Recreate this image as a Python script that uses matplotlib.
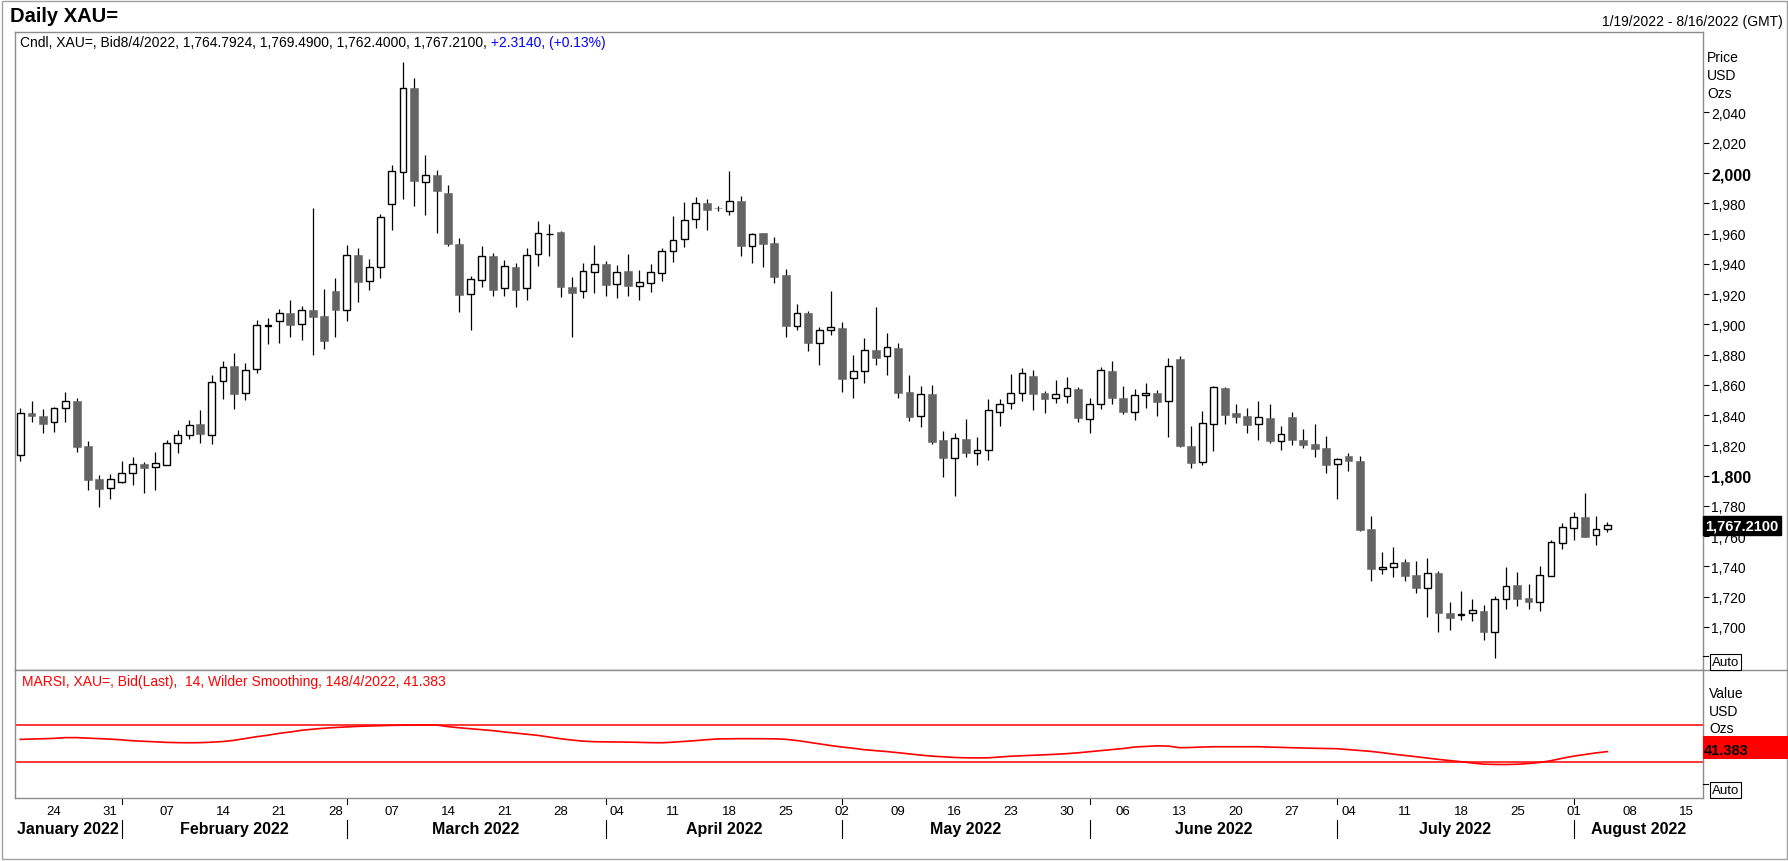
import matplotlib
matplotlib.use("Agg")
import matplotlib.pyplot as plt
import matplotlib.transforms as mtransforms
from matplotlib.lines import Line2D
from matplotlib.patches import Rectangle
import numpy as np
import pandas as pd

plt.rcParams['font.family'] = ['Liberation Sans', 'DejaVu Sans']

# trading days shown (weekdays), data ends 8/4/2022, axis runs to 8/16/2022
dates = pd.bdate_range('2022-01-19', '2022-08-04')
axis_days = pd.bdate_range('2022-01-19', '2022-08-16')

opens = [1813.8, 1841.4, 1839.2, 1835.2, 1844.5, 1849.3, 1819.6, 1797.5, 1791.6, 1796.0,
         1801.5, 1807.4, 1805.5, 1807.2, 1821.3, 1826.6, 1834.1, 1827.1, 1862.3, 1872.4,
         1854.4, 1870.3, 1899.1, 1902.0, 1907.5, 1900.0, 1909.2, 1905.5, 1922.1, 1909.7,
         1945.9, 1928.4, 1937.7, 1979.3, 2000.5, 2056.2, 1993.9, 1998.5, 1986.8, 1953.1,
         1919.9, 1929.1, 1945.2, 1923.8, 1937.9, 1923.8, 1946.3, 1959.6, 1961.1, 1924.7,
         1921.8, 1934.4, 1939.8, 1926.6, 1935.1, 1925.1, 1927.1, 1933.7, 1948.3, 1956.4,
         1969.4, 1980.0, 1977.1, 1974.7, 1981.5, 1952.0, 1960.4, 1953.8, 1932.6, 1899.1,
         1907.5, 1887.5, 1896.0, 1897.6, 1864.3, 1868.9, 1883.0, 1878.9, 1884.3, 1855.2,
         1839.1, 1853.9, 1823.5, 1811.4, 1824.2, 1815.1, 1816.7, 1842.2, 1847.7, 1854.4,
         1865.8, 1854.6, 1851.0, 1852.4, 1857.2, 1837.2, 1847.1, 1869.1, 1851.3, 1841.8,
         1853.0, 1854.6, 1849.1, 1877.0, 1819.6, 1808.8, 1833.9, 1857.9, 1841.4, 1839.4,
         1833.9, 1838.1, 1822.7, 1838.8, 1823.6, 1820.9, 1818.3, 1807.5, 1813.0, 1809.7,
         1764.8, 1738.1, 1739.4, 1743.0, 1734.4, 1725.6, 1735.7, 1709.0, 1707.7, 1709.0,
         1710.6, 1696.3, 1718.3, 1727.8, 1719.2, 1716.3, 1733.5, 1755.3, 1765.2, 1772.7,
         1760.6, 1764.7924]
highs = [1844.7, 1849.3, 1844.0, 1845.1, 1855.3, 1851.1, 1822.6, 1800.4, 1800.8, 1809.6,
         1812.3, 1809.2, 1815.4, 1823.8, 1829.9, 1836.5, 1843.4, 1866.3, 1875.7, 1880.8,
         1874.4, 1902.6, 1904.2, 1910.1, 1916.1, 1912.1, 1976.9, 1923.3, 1930.6, 1952.5,
         1950.5, 1943.2, 1972.9, 2005.3, 2073.6, 2063.0, 2011.9, 2002.0, 1991.9, 1956.9,
         1931.8, 1951.8, 1947.0, 1942.5, 1940.3, 1950.5, 1968.3, 1966.3, 1961.5, 1931.5,
         1940.6, 1952.5, 1941.9, 1939.2, 1946.5, 1935.9, 1939.9, 1950.5, 1971.6, 1980.9,
         1983.9, 1982.6, 1978.2, 2001.4, 1984.8, 1960.2, 1960.6, 1957.5, 1936.6, 1913.5,
         1908.8, 1898.0, 1922.0, 1901.6, 1879.7, 1891.0, 1911.5, 1894.3, 1887.8, 1866.5,
         1859.0, 1859.9, 1829.5, 1828.1, 1837.4, 1825.5, 1850.6, 1850.6, 1867.1, 1871.1,
         1870.0, 1855.7, 1863.4, 1865.1, 1858.3, 1851.3, 1871.8, 1875.7, 1859.2, 1857.2,
         1861.2, 1856.3, 1877.7, 1879.0, 1833.0, 1842.7, 1859.5, 1858.6, 1847.4, 1844.7,
         1849.4, 1847.4, 1832.8, 1842.1, 1830.9, 1834.2, 1826.2, 1811.9, 1815.0, 1813.0,
         1773.4, 1749.6, 1752.9, 1744.7, 1743.6, 1745.6, 1737.0, 1716.5, 1723.8, 1718.5,
         1714.5, 1720.5, 1739.6, 1736.3, 1728.4, 1740.3, 1757.3, 1768.5, 1775.8, 1788.6,
         1773.4, 1769.49]
lows = [1809.9, 1835.6, 1828.4, 1829.0, 1835.2, 1815.4, 1790.7, 1779.5, 1784.8, 1795.1,
        1794.0, 1788.3, 1790.7, 1807.2, 1814.9, 1824.4, 1821.5, 1821.1, 1850.9, 1844.3,
        1850.0, 1868.0, 1887.2, 1887.9, 1891.8, 1889.9, 1880.0, 1883.9, 1891.4, 1902.0,
        1915.0, 1922.9, 1930.9, 1962.6, 1983.1, 1978.4, 1972.5, 1960.6, 1951.6, 1907.9,
        1896.5, 1924.9, 1919.0, 1919.0, 1911.7, 1916.3, 1938.8, 1945.4, 1918.3, 1891.4,
        1917.2, 1920.5, 1918.4, 1917.1, 1919.0, 1916.3, 1921.6, 1928.9, 1941.4, 1951.3,
        1963.9, 1962.6, 1975.1, 1972.5, 1945.4, 1940.8, 1938.1, 1927.3, 1891.9, 1896.3,
        1882.4, 1873.4, 1893.2, 1855.5, 1851.1, 1861.5, 1873.4, 1866.7, 1851.5, 1836.3,
        1832.3, 1821.1, 1799.3, 1786.7, 1812.5, 1807.2, 1810.5, 1833.0, 1844.2, 1849.5,
        1843.6, 1841.6, 1848.2, 1848.2, 1835.6, 1828.4, 1844.2, 1847.5, 1840.9, 1837.0,
        1844.9, 1839.6, 1825.7, 1818.9, 1804.8, 1807.3, 1816.5, 1834.4, 1835.0, 1828.4,
        1823.8, 1821.8, 1817.2, 1820.5, 1818.3, 1812.6, 1802.0, 1784.2, 1803.3, 1763.2,
        1730.6, 1735.0, 1733.3, 1730.6, 1722.2, 1706.8, 1696.9, 1698.2, 1704.8, 1704.2,
        1691.6, 1679.7, 1711.9, 1713.9, 1711.9, 1710.8, 1733.5, 1751.8, 1757.7, 1759.7,
        1754.4, 1762.40]
closes = [1841.2, 1839.6, 1834.3, 1844.5, 1849.1, 1819.1, 1797.3, 1791.4, 1797.5, 1801.5,
          1807.4, 1805.2, 1808.1, 1821.3, 1826.6, 1833.2, 1827.7, 1861.6, 1871.6, 1854.2,
          1869.8, 1899.5, 1899.5, 1907.3, 1899.8, 1909.2, 1905.0, 1889.2, 1909.7, 1945.6,
          1928.2, 1937.7, 1970.7, 2001.1, 2056.2, 1994.5, 1998.5, 1987.9, 1953.3, 1919.6,
          1929.8, 1945.0, 1922.9, 1938.4, 1922.9, 1945.6, 1960.2, 1959.9, 1924.9, 1921.0,
          1935.1, 1939.7, 1926.2, 1934.4, 1925.6, 1927.8, 1934.4, 1948.3, 1955.5, 1968.7,
          1980.0, 1975.8, 1976.9, 1981.3, 1952.0, 1959.5, 1953.1, 1931.5, 1898.9, 1907.3,
          1887.9, 1896.0, 1898.0, 1864.1, 1868.9, 1882.9, 1877.9, 1884.8, 1854.8, 1838.9,
          1853.7, 1822.4, 1811.8, 1824.6, 1815.1, 1816.7, 1843.3, 1847.1, 1854.4, 1867.6,
          1854.1, 1850.8, 1853.7, 1857.7, 1838.3, 1847.1, 1869.6, 1851.5, 1842.2, 1853.0,
          1854.4, 1848.8, 1872.2, 1819.8, 1808.6, 1834.6, 1858.4, 1840.3, 1839.0, 1833.7,
          1838.6, 1822.9, 1827.3, 1823.6, 1820.5, 1817.9, 1807.3, 1810.8, 1809.9, 1764.1,
          1738.5, 1739.9, 1742.1, 1733.9, 1726.0, 1735.5, 1709.5, 1706.2, 1708.8, 1711.0,
          1696.3, 1718.3, 1726.9, 1718.7, 1716.7, 1734.1, 1755.9, 1765.9, 1772.5, 1759.7,
          1764.9, 1767.21]

# MARSI (14, Wilder smoothing)
rsi = [54.5, 54.8, 55.2, 55.6, 56.4, 56.4, 55.9, 55.4, 54.8, 54.0,
       53.0, 52.4, 51.8, 51.3, 51.0, 50.9, 51.0, 51.5, 52.2, 53.5,
       55.5, 57.4, 59.0, 61.0, 62.5, 64.3, 65.5, 66.5, 67.3, 67.9,
       68.5, 68.9, 69.3, 69.6, 69.8, 70.0, 70.1, 70.0, 68.2, 67.0,
       66.0, 65.0, 63.9, 62.5, 61.3, 60.0, 58.8, 57.0, 55.2, 53.8,
       52.6, 52.0, 51.8, 51.7, 51.6, 51.3, 51.0, 50.9, 51.5, 52.3,
       53.2, 54.2, 55.0, 55.2, 55.3, 55.3, 55.2, 55.1, 54.6, 53.3,
       51.5, 49.6, 47.9, 46.3, 45.0, 43.4, 42.4, 41.4, 40.2, 38.9,
       37.6, 36.5, 35.8, 35.1, 34.7, 34.6, 34.7, 35.5, 36.4, 36.9,
       37.3, 37.8, 38.5, 39.2, 40.1, 41.3, 42.5, 43.6, 44.7, 46.3,
       47.0, 47.6, 47.3, 45.6, 45.8, 46.3, 46.6, 46.6, 46.6, 46.6,
       46.6, 46.3, 45.9, 45.5, 45.2, 44.9, 44.7, 44.5, 43.5, 42.4,
       41.6, 40.2, 38.6, 37.3, 35.9, 34.4, 33.0, 31.8, 30.5, 29.1,
       27.9, 27.6, 27.5, 27.8, 28.6, 29.7, 31.6, 34.2, 36.5, 38.3,
       40.0, 41.383]

price_ticks = list(range(1700, 2041, 20))
rsi_levels = [70, 30]

W, H = 1788, 862
GRAY = '#8c8c8c'
DARK = '#646464'


def fx(px):
    return px / W


def fy(py):
    return 1 - py / H


fig = plt.figure(figsize=(W / 100, H / 100), dpi=100)
fig.patch.set_facecolor('white')

ax = fig.add_axes([fx(15), fy(671), (1703 - 15) / W, (671 - 33) / H])
ax2 = fig.add_axes([fx(15), fy(799), (1703 - 15) / W, (799 - 671) / H])

x = np.arange(len(dates))
o = np.array(opens)
h = np.array(highs)
l = np.array(lows)
c = np.array(closes)
up = c >= o

# candles
ax.vlines(x, l, h, color='black', linewidth=0.9, zorder=1)
ax.bar(x[up], (c - o)[up], bottom=o[up], width=0.6, facecolor='white',
       edgecolor='black', linewidth=1.0, zorder=2)
ax.bar(x[~up], (o - c)[~up], bottom=c[~up], width=0.7, facecolor=DARK,
       edgecolor=DARK, linewidth=0.4, zorder=2)

xmin, xmax = -0.47, len(axis_days) - 0.5
ax.set_xlim(xmin, xmax)
ax.set_ylim(1671.5, 2093.2)
ax.set_xticks([])
ax.yaxis.tick_right()
ax.set_yticks(price_ticks)
ax.set_yticklabels([f"{v:,}" for v in price_ticks])
ax.tick_params(axis='y', direction='out', length=4, width=0.8, pad=2,
               labelsize=10, colors='black')
for lab, v in zip(ax.get_yticklabels(), price_ticks):
    if v % 200 == 0:
        lab.set_fontweight('bold')
        lab.set_fontsize(11.5)
for sp in ax.spines.values():
    sp.set_color(GRAY)
    sp.set_linewidth(1)

# RSI panel
ax2.plot(x, rsi, color='red', linewidth=1.2)
for lv in rsi_levels:
    ax2.axhline(lv, color='red', linewidth=1.1)
ax2.set_xlim(xmin, xmax)
ax2.set_ylim(-8.5, 129.1)
ax2.set_yticks([])
for sp in ax2.spines.values():
    sp.set_color(GRAY)
    sp.set_linewidth(1)

# date axis: Monday labels
mondays = [i for i, d in enumerate(axis_days) if d.weekday() == 0]
ax2.set_xticks(mondays)
ax2.set_xticklabels([axis_days[i].strftime('%d') for i in mondays])
ax2.tick_params(axis='x', length=0, pad=5, labelsize=9.5)

# month separators and labels
trans = mtransforms.blended_transform_factory(ax2.transData, ax2.transAxes)
months = pd.Series(axis_days.month)
starts = [i for i in range(1, len(axis_days)) if months[i] != months[i - 1]]
edges = [xmin] + starts + [xmax]
for s in starts:
    ax2.plot([s, s], [0, -0.047], color='black', linewidth=0.8,
             transform=trans, clip_on=False)
    ax2.plot([s, s], [-0.172, -0.3125], color='black', linewidth=0.8,
             transform=trans, clip_on=False)
for a, b in zip(edges[:-1], edges[1:]):
    mid = (a + b) / 2
    name = axis_days[int(np.ceil(a)) if a >= 0 else 0].strftime('%B %Y')
    ax2.text(mid, -0.242, name, transform=trans, ha='center', va='center',
             fontsize=11.5, fontweight='bold')

# frame lines
fig.add_artist(Line2D([fx(1703), 1], [fy(671), fy(671)], color=GRAY, linewidth=1))
fig.add_artist(Rectangle((fx(1.5), fy(859.5)), fx(1785), (858) / H, fill=False,
                         edgecolor='#a0a0a0', linewidth=1, transform=fig.transFigure))

# titles and headers
fig.text(fx(10), fy(17), 'Daily XAU=', fontsize=14.5, fontweight='bold',
         va='center', ha='left')
fig.text(fx(1783), fy(22), '1/19/2022 - 8/16/2022 (GMT)', fontsize=10,
         va='center', ha='right')
t1 = fig.text(fx(20), fy(43),
              'Cndl, XAU=, Bid8/4/2022, 1,764.7924, 1,769.4900, 1,762.4000, 1,767.2100,',
              fontsize=10, va='center', ha='left')
ax.annotate(' +2.3140, (+0.13%)', xy=(1, 0.5), xycoords=t1, va='center', ha='left',
            fontsize=10, color='#0000ff', annotation_clip=False)
fig.text(fx(22), fy(682), 'MARSI, XAU=, Bid(Last),  14, Wilder Smoothing, 148/4/2022, 41.383',
         fontsize=10, color='red', va='center', ha='left')

for txt, yy in zip(['Price', 'USD', 'Ozs'], [58, 76, 94]):
    fig.text(fx(1707), fy(yy), txt, fontsize=10, va='center', ha='left')
for txt, yy in zip(['Value', 'USD', 'Ozs'], [694, 712, 729]):
    fig.text(fx(1709), fy(yy), txt, fontsize=10, va='center', ha='left')

# last price label
ptrans = mtransforms.blended_transform_factory(ax.transAxes, ax.transData)
ax.text(1.0015, c[-1], f"{c[-1]:,.4f}", transform=ptrans, ha='left', va='center',
        fontsize=10.5, fontweight='bold', color='white', clip_on=False,
        bbox=dict(boxstyle='square,pad=0.18', facecolor='black', edgecolor='black'))

# last RSI label
fig.add_artist(Rectangle((fx(1703), fy(760)), fx(85), 23 / H, facecolor='red',
                         edgecolor='none', transform=fig.transFigure))
fig.text(fx(1704), fy(751), f"{rsi[-1]:.3f}", fontsize=10.5, fontweight='bold',
         va='center', ha='left')

# Auto boxes
for yy in [663, 791]:
    fig.text(fx(1712), fy(yy), 'Auto', fontsize=9.5, va='center', ha='left',
             bbox=dict(boxstyle='square,pad=0.12', facecolor='white',
                       edgecolor='black', linewidth=0.8))
    fig.add_artist(Line2D([fx(1703), fx(1708)], [fy(yy - 6)] * 2, color='black',
                          linewidth=0.8))

fig.savefig('out.png', dpi=100)
